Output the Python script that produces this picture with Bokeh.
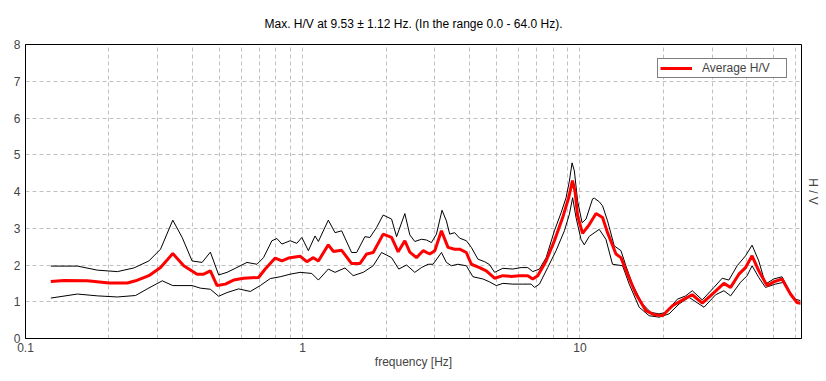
from bokeh.plotting import figure
from bokeh.models import FixedTicker, LinearAxis, Legend, LegendItem, Range1d
from bokeh.embed import file_html
from bokeh.resources import INLINE

title_text = "Max. H/V at 9.53 \u00b1 1.12 Hz. (In the range 0.0 - 64.0 Hz)."
x_label = "frequency [Hz]"
y_label = "H / V"
legend_label = "Average H/V"

x_ticks = [0.1, 1, 10]
x_tick_labels = ["0.1", "1", "10"]
x_minor = [0.2, 0.3, 0.4, 0.5, 0.6, 0.7, 0.8, 0.9,
           2, 3, 4, 5, 6, 7, 8, 9, 20, 30, 40, 50, 60]
y_ticks = [0, 1, 2, 3, 4, 5, 6, 7, 8]

upper_f = [0.1234, 0.1540, 0.1817, 0.2145, 0.2460, 0.2786, 0.3070, 0.3399, 0.3674, 0.3990,
           0.4336, 0.4644, 0.4975, 0.5333, 0.5712, 0.6294, 0.6838, 0.7222, 0.7742, 0.8070,
           0.8412, 0.9010, 0.9524, 0.9926, 1.048, 1.108, 1.139, 1.237, 1.308, 1.382,
           1.501, 1.565, 1.676, 1.748, 1.847, 1.951, 2.092, 2.181, 2.336, 2.434,
           2.537, 2.682, 2.795, 2.914, 3.037, 3.181, 3.299, 3.390, 3.533, 3.683,
           3.893, 4.058, 4.285, 4.531, 4.722, 4.922, 5.272, 5.727, 6.139, 6.484,
           6.760, 7.145, 7.553, 8.090, 8.551, 8.913, 9.161, 9.368, 9.549, 9.811,
           10.18, 10.52, 11.11, 11.27, 11.74, 12.07, 12.58, 13.30, 14.06, 14.65,
           15.47, 16.81, 18.03, 19.31, 20.41, 22.46, 24.08, 25.43, 27.63, 30.44,
           32.61, 34.46, 36.92, 39.58, 41.79, 44.18, 46.70, 50.03, 53.59, 57.46,
           59.88, 62.41]
upper_v = [1.97, 1.97, 1.86, 1.82, 1.92, 2.11, 2.43, 3.22, 2.75, 2.11,
           2.07, 2.35, 1.73, 1.80, 1.91, 2.07, 2.02, 2.20, 2.66, 2.72,
           2.57, 2.66, 2.59, 2.75, 2.39, 2.79, 2.64, 3.22, 2.88, 2.93,
           2.34, 2.34, 2.77, 2.75, 3.02, 3.36, 3.25, 2.77, 3.40, 2.82,
           2.64, 2.70, 2.68, 2.61, 2.84, 3.49, 3.20, 2.84, 2.88, 2.73,
           2.66, 2.48, 2.16, 2.09, 2.01, 1.80, 1.91, 1.89, 1.93, 1.93,
           1.82, 1.89, 2.20, 2.93, 3.42, 3.83, 4.28, 4.78, 4.56, 3.74,
           3.15, 3.25, 3.80, 3.82, 3.72, 3.61, 3.20, 2.52, 2.39, 1.98,
           1.48, 0.94, 0.71, 0.67, 0.71, 1.07, 1.16, 1.30, 1.05, 1.39,
           1.64, 1.59, 1.98, 2.25, 2.54, 2.11, 1.48, 1.62, 1.68, 1.25,
           1.07, 1.03]

avg_f = [0.1234, 0.1378, 0.1673, 0.2001, 0.2331, 0.2495, 0.2786, 0.3070, 0.3399, 0.3723,
         0.4159, 0.4393, 0.4644, 0.4909, 0.5259, 0.5632, 0.6119, 0.6929, 0.7324, 0.7957,
         0.8412, 0.8885, 0.9786, 1.034, 1.093, 1.139, 1.237, 1.290, 1.382, 1.501,
         1.608, 1.701, 1.796, 1.951, 2.092, 2.210, 2.336, 2.434, 2.573, 2.718,
         2.873, 2.995, 3.166, 3.343, 3.533, 3.683, 3.893, 4.058, 4.346, 4.595,
         4.922, 5.272, 5.652, 6.053, 6.484, 6.760, 7.044, 7.553, 8.090, 8.666,
         9.108, 9.400, 9.600, 9.811, 10.22, 10.81, 11.43, 12.07, 12.58, 13.49,
         14.06, 14.85, 15.92, 17.29, 18.52, 19.84, 21.56, 23.75, 25.43, 27.63,
         30.44, 33.07, 34.96, 37.45, 39.58, 41.79, 44.18, 47.33, 50.03, 53.59,
         57.46, 60.69, 62.41]
avg_v = [1.55, 1.58, 1.57, 1.51, 1.51, 1.57, 1.71, 1.93, 2.31, 1.98,
         1.75, 1.75, 1.84, 1.44, 1.48, 1.59, 1.64, 1.66, 1.89, 2.19,
         2.11, 2.19, 2.24, 2.09, 2.20, 2.11, 2.55, 2.37, 2.40, 2.04,
         2.04, 2.30, 2.34, 2.84, 2.75, 2.36, 2.66, 2.35, 2.20, 2.39,
         2.30, 2.39, 2.93, 2.48, 2.43, 2.43, 2.34, 2.02, 1.93, 1.84,
         1.64, 1.71, 1.69, 1.71, 1.71, 1.62, 1.71, 2.11, 2.66, 3.29,
         3.83, 4.30, 4.01, 3.34, 2.86, 3.10, 3.40, 3.29, 2.88, 2.30,
         2.20, 1.75, 1.21, 0.76, 0.65, 0.62, 0.89, 1.07, 1.19, 0.96,
         1.25, 1.50, 1.39, 1.75, 1.93, 2.25, 1.84, 1.44, 1.54, 1.62,
         1.21, 0.98, 0.96]

lower_f = [0.1234, 0.1540, 0.1817, 0.2145, 0.2495, 0.2749, 0.3114, 0.3399, 0.3990, 0.4274,
           0.4644, 0.4975, 0.5333, 0.5870, 0.6469, 0.7028, 0.7634, 0.8294, 0.9010, 0.9786,
           1.078, 1.139, 1.237, 1.308, 1.421, 1.521, 1.653, 1.796, 1.925, 2.092,
           2.220, 2.370, 2.537, 2.682, 2.833, 2.953, 3.166, 3.299, 3.438, 3.631,
           3.893, 4.112, 4.467, 4.722, 4.991, 5.272, 5.727, 6.221, 6.670, 6.855,
           7.145, 7.653, 8.204, 8.789, 9.161, 9.413, 9.683, 10.09, 10.37, 10.81,
           11.74, 12.41, 13.11, 14.25, 15.06, 16.36, 17.77, 19.31, 20.97, 22.79,
           24.75, 28.03, 30.87, 33.07, 34.96, 37.97, 40.11, 41.79, 44.18, 46.70,
           50.74, 54.36, 58.22, 62.41]
lower_v = [1.10, 1.21, 1.16, 1.13, 1.17, 1.35, 1.57, 1.44, 1.44, 1.37,
           1.34, 1.15, 1.25, 1.35, 1.28, 1.44, 1.63, 1.68, 1.75, 1.80,
           1.77, 1.59, 1.89, 1.80, 1.92, 1.71, 1.80, 1.98, 2.34, 2.20,
           1.89, 2.00, 1.80, 1.93, 2.02, 2.02, 2.34, 2.07, 1.98, 2.02,
           1.98, 1.68, 1.62, 1.54, 1.44, 1.50, 1.48, 1.48, 1.48, 1.39,
           1.48, 1.93, 2.39, 2.93, 3.38, 3.83, 3.29, 2.70, 2.55, 2.78,
           2.97, 2.70, 2.02, 1.98, 1.48, 0.85, 0.62, 0.58, 0.67, 0.94,
           1.12, 0.85, 1.19, 1.30, 1.16, 1.53, 1.71, 1.98, 1.66, 1.39,
           1.48, 1.53, 1.12, 0.94]

FONT = "Liberation Sans"

p = figure(width=822, height=376, x_axis_type="log",
           x_range=Range1d(0.1, 63), y_range=Range1d(0, 8),
           output_backend="svg", toolbar_location=None,
           min_border_left=25, min_border_right=20,
           min_border_top=43, min_border_bottom=38)

p.title.text = title_text
p.title.align = "center"
p.title.text_font = FONT
p.title.text_font_size = "12px"
p.title.text_font_style = "normal"
p.title.text_color = "black"
p.title.standoff = 28

p.outline_line_color = "black"
p.outline_line_width = 1
p.background_fill_color = "white"
p.border_fill_color = "white"

# x axis
xa = p.xaxis[0]
xa.ticker = FixedTicker(ticks=x_ticks, minor_ticks=x_minor)
xa.major_label_overrides = {t: l for t, l in zip(x_ticks, x_tick_labels)}
xa.axis_label = x_label
xa.axis_label_text_font = FONT
xa.axis_label_text_font_size = "12px"
xa.axis_label_text_font_style = "normal"
xa.axis_label_standoff = 0
xa.major_label_text_font = FONT
xa.major_label_text_font_size = "12px"
xa.major_label_standoff = 4
xa.major_tick_out = 0
xa.major_tick_in = 0
xa.minor_tick_out = 0
xa.minor_tick_in = 0
xa.axis_line_color = "black"

ya = p.yaxis[0]
ya.ticker = FixedTicker(ticks=y_ticks)
ya.major_label_text_font = FONT
ya.major_label_text_font_size = "12px"
ya.major_label_standoff = 5
ya.major_tick_out = 0
ya.major_tick_in = 0
ya.minor_tick_out = 0
ya.minor_tick_in = 0
ya.axis_line_color = "black"

ra = LinearAxis(ticker=FixedTicker(ticks=[]), axis_label=y_label,
                axis_line_color=None, major_tick_out=0, major_tick_in=0,
                minor_tick_out=0, minor_tick_in=0,
                axis_label_text_font=FONT, axis_label_text_font_size="12px",
                axis_label_text_font_style="normal", axis_label_standoff=4)
p.add_layout(ra, "right")

grid_color = "#c0c0c0"
p.xgrid.grid_line_color = grid_color
p.xgrid.grid_line_dash = "4 3"
p.xgrid.minor_grid_line_color = grid_color
p.xgrid.minor_grid_line_dash = "4 3"
p.ygrid.grid_line_color = grid_color
p.ygrid.grid_line_dash = "4 3"

p.line(upper_f, upper_v, line_color="black", line_width=1)
p.line(lower_f, lower_v, line_color="black", line_width=1)
r_avg = p.line(avg_f, avg_v, line_color="red", line_width=3)

legend = Legend(items=[LegendItem(label=legend_label, renderers=[r_avg])],
                location="top_right", margin=14, padding=2,
                glyph_width=32, glyph_height=10, label_height=10,
                label_standoff=10, label_width=82,
                label_text_font=FONT, label_text_font_size="12px",
                border_line_color="black", border_line_width=1,
                background_fill_color="white", background_fill_alpha=1.0)
p.add_layout(legend, "center")

open("out.html", "w").write(file_html(p, INLINE))
